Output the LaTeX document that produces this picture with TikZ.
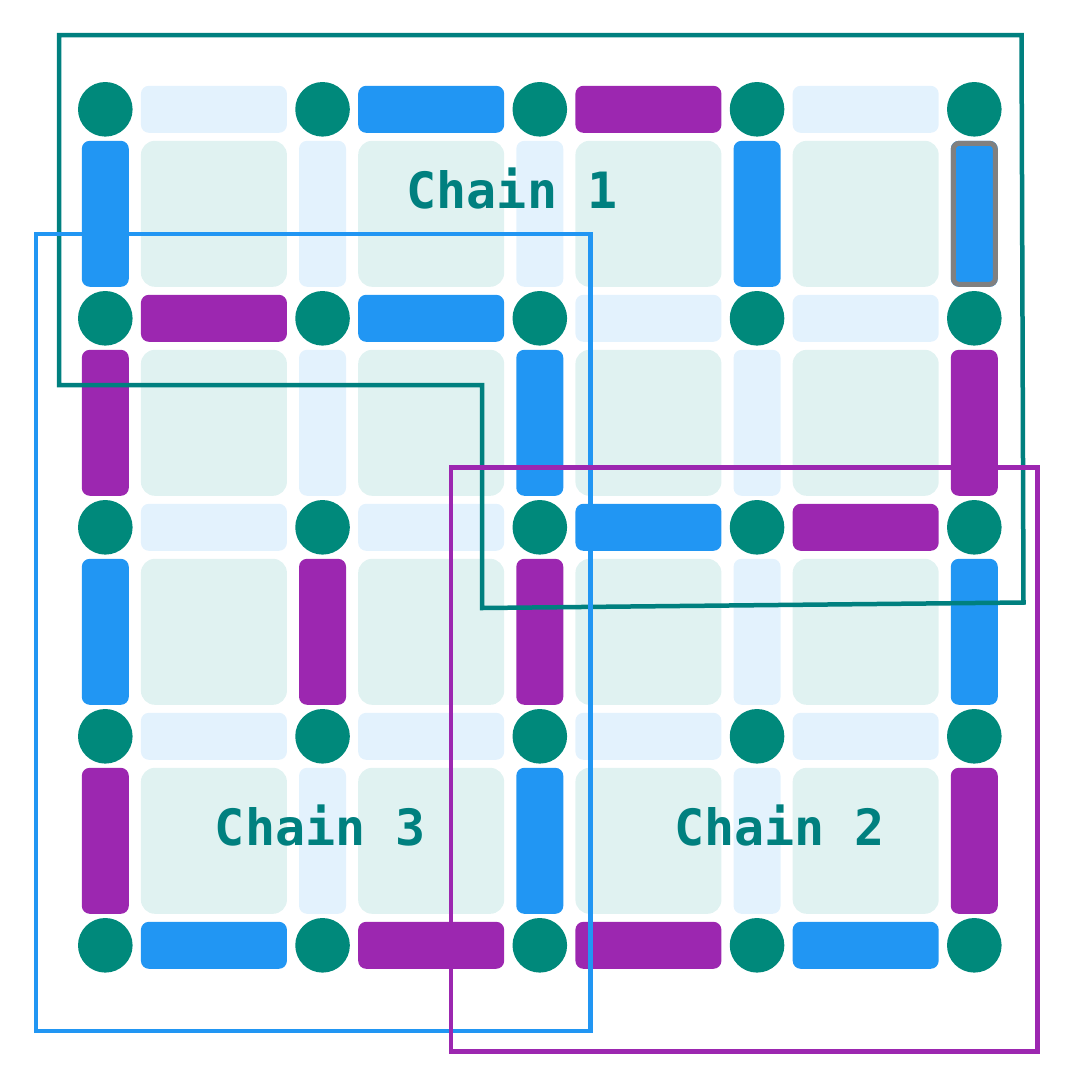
\documentclass[tikz,border=0pt]{standalone}
\usepackage{fontspec}
\newfontfamily\chainfont{DejaVu Sans Mono}
\definecolor{cellc}{HTML}{E0F2F1}
\definecolor{eL}{HTML}{E3F2FD}
\definecolor{eB}{HTML}{2196F3}
\definecolor{eP}{HTML}{9C27B0}
\definecolor{dotc}{HTML}{00897B}
\definecolor{tealc}{HTML}{00807F}
\definecolor{grayc}{HTML}{808080}
\begin{document}
\begin{tikzpicture}[x=1pt,y=-1pt,
  cellbox/.style={fill=cellc, rounded corners=14pt},
  edgebox/.style={rounded corners=8pt},
  dot/.style={circle, fill=dotc, inner sep=0pt, minimum size=54.6pt},
  chainline/.style={line width=4.5pt, line join=miter},
  lbl/.style={text=tealc, font=\chainfont\bfseries\fontsize{50}{60}\selectfont, anchor=base, inner sep=0pt}]
\useasboundingbox (0,0) rectangle (1080,1080);
% cells
\foreach \i in {0,...,3} \foreach \j in {0,...,3} {
  \fill[cellbox] ({105.3+217.25*(\i+0.5)-73},{109.3+209*(\j+0.5)-73}) rectangle ++(146,146);
}
% horizontal edges
\foreach \c [count=\k from 0] in {L,B,P,L,P,B,L,L,L,L,B,P,L,L,L,L,B,P,P,B} {
  \pgfmathtruncatemacro\i{mod(\k,4)}
  \pgfmathtruncatemacro\j{div(\k,4)}
  \fill[edgebox, fill=e\c] ({105.3+217.25*(\i+0.5)-73},{109.3+209*\j-23.5}) rectangle ++(146,47);
}
% vertical edges
\foreach \c [count=\k from 0] in {B,L,L,B,B,P,L,B,L,P,B,P,P,L,B,P,L,B,L,P} {
  \pgfmathtruncatemacro\i{mod(\k,5)}
  \pgfmathtruncatemacro\j{div(\k,5)}
  \fill[edgebox, fill=e\c] ({105.3+217.25*\i-23.5},{109.3+209*(\j+0.5)-73}) rectangle ++(47,146);
}
% highlighted edge
\draw[grayc, line width=5pt, rounded corners=6pt] (953.3,143.3) rectangle (995.3,284.3);
% dots
\foreach \i in {0,...,4} \foreach \j in {0,...,4} {
  \node[dot] (d\i\j) at ({105.3+217.25*\i},{109.3+209*\j}) {};
}
% labels
\node[lbl] (c1) at (512,208) {Chain 1};
\node[lbl] (c3) at (320.3,845.5) {Chain 3};
\node[lbl] (c2) at (779.5,845.5) {Chain 2};
% chain outlines
\draw[chainline, draw=tealc] (59,35) -- (1021.5,35) -- (1023.5,602.5) -- (482,608) -- (482,385) -- (59,385) -- cycle;
\draw[chainline, draw=eB] (36,234) rectangle (590.5,1031);
\draw[chainline, draw=eP] (451,467.5) rectangle (1037.5,1051.5);
\end{tikzpicture}
\end{document}
